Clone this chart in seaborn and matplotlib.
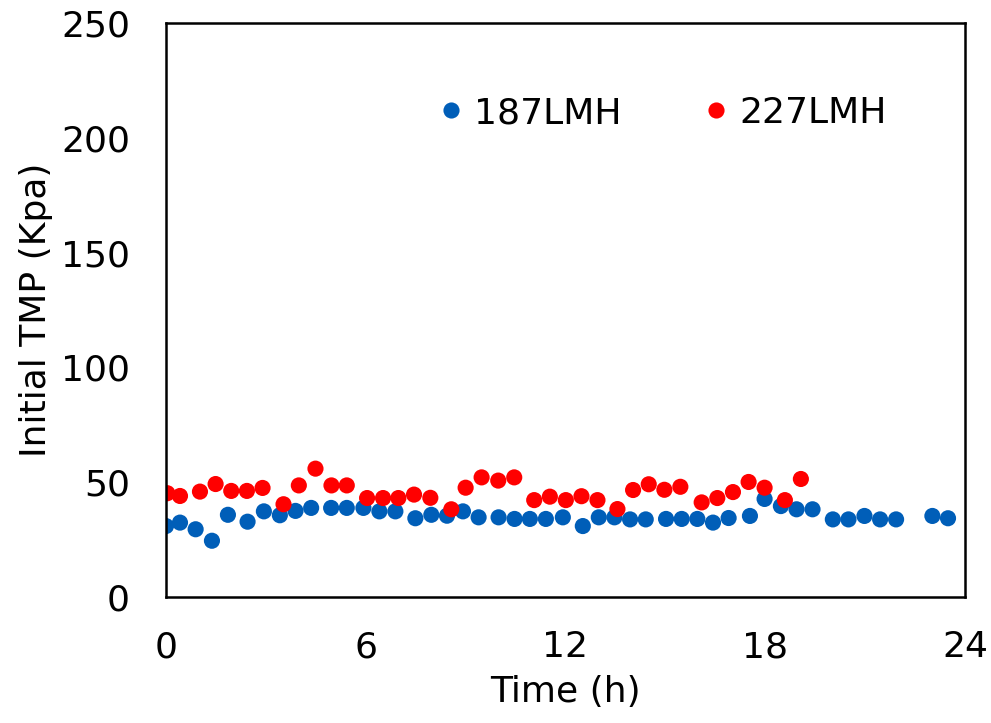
import matplotlib
matplotlib.use("Agg")
import matplotlib.pyplot as plt
import seaborn as sns
import pandas as pd

t_187 = [0, 0.42, 0.89, 1.38, 1.86, 2.45, 2.94, 3.42, 3.89, 4.36, 4.96, 5.43, 5.93, 6.41, 6.89,
         7.49, 7.97, 8.44, 8.92, 9.39, 9.99, 10.47, 10.93, 11.41, 11.92, 12.52, 13.0, 13.47,
         13.94, 14.41, 15.02, 15.49, 15.96, 16.43, 16.9, 17.54, 17.98, 18.47, 18.94, 19.42,
         20.03, 20.5, 20.98, 21.45, 21.93, 23.02, 23.49]
tmp_187 = [30.9, 32.4, 29.5, 24.5, 35.8, 32.8, 37.3, 35.6, 37.5, 38.8, 38.8, 38.8, 38.8, 37.3, 37.3,
           34.3, 35.8, 35.4, 37.3, 34.7, 34.7, 34.0, 34.0, 34.0, 34.7, 30.9, 34.7, 34.7,
           33.8, 33.8, 34.0, 34.0, 34.0, 32.4, 34.4, 35.3, 42.7, 39.6, 38.2, 38.2,
           33.8, 33.8, 35.3, 33.8, 33.8, 35.3, 34.3]
t_227 = [0.04, 0.42, 1.02, 1.49, 1.96, 2.43, 2.9, 3.53, 3.99, 4.49, 4.97, 5.43, 6.04, 6.52, 6.98,
         7.45, 7.94, 8.57, 9.0, 9.48, 9.98, 10.46, 11.06, 11.53, 12.01, 12.48, 12.96, 13.56,
         14.03, 14.5, 14.97, 15.45, 16.09, 16.56, 17.03, 17.5, 17.98, 18.59, 19.07]
tmp_227 = [45.2, 44.0, 45.9, 49.2, 46.2, 46.2, 47.5, 40.4, 48.6, 55.9, 48.6, 48.6, 43.1, 43.1, 43.1,
           44.6, 43.2, 38.2, 47.6, 52.1, 50.7, 52.1, 42.2, 43.7, 42.2, 43.9, 42.2, 38.3,
           46.6, 49.1, 46.7, 48.0, 41.2, 43.1, 45.7, 50.1, 47.6, 42.2, 51.4]
series_names = ["187LMH", "227LMH"]
colors = ["#005EB8", "#FF0000"]
x_ticks = [0, 6, 12, 18, 24]
y_ticks = [0, 50, 100, 150, 200, 250]

df = pd.concat([
    pd.DataFrame({"Time": t_187, "TMP": tmp_187, "Series": series_names[0]}),
    pd.DataFrame({"Time": t_227, "TMP": tmp_227, "Series": series_names[1]}),
], ignore_index=True)

sns.set_style("white")
plt.rcParams["font.family"] = ["DejaVu Sans"]
plt.rcParams["text.color"] = "black"
plt.rcParams["axes.labelcolor"] = "black"

fig = plt.figure(figsize=(9.91, 7.23), dpi=100)
ax = fig.add_axes([166/991, 1-597/723, (965-166)/991, (597-23)/723])

sns.scatterplot(data=df, x="Time", y="TMP", hue="Series", palette=colors,
                s=135, edgecolor="none", linewidth=0, ax=ax)

FS = 26
ax.set_xlim(0, 24)
ax.set_ylim(0, 250)
ax.set_xticks(x_ticks)
ax.set_yticks(y_ticks)
ax.tick_params(axis="both", length=0, labelsize=FS, colors="black")
ax.tick_params(axis="x", pad=24)
ax.tick_params(axis="y", pad=26)
ax.set_xlabel("Time (h)", fontsize=FS, labelpad=8, color="black")
ax.set_ylabel("Initial TMP (Kpa)", fontsize=FS, labelpad=6, color="black")
for sp in ax.spines.values():
    sp.set_visible(True)
    sp.set_color("black")
    sp.set_linewidth(1.8)

sns.move_legend(ax, "center", bbox_to_anchor=(0.62, 0.843), ncol=2, frameon=False,
                title=None, fontsize=FS, handletextpad=0.25, handlelength=0.8,
                columnspacing=2.2, markerscale=1.0)
for txt in ax.get_legend().get_texts():
    txt.set_color("black")

fig.savefig("out.png", dpi=100)
